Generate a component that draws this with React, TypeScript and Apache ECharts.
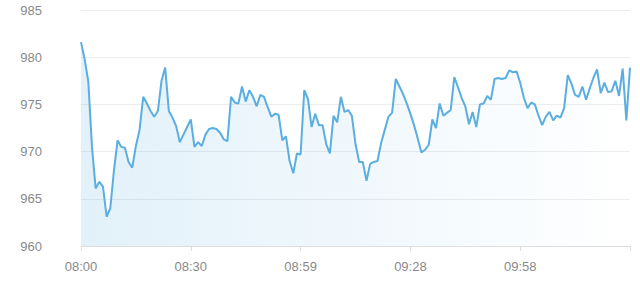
import React, { useEffect, useRef } from "react";
import * as echarts from "echarts";

// Pressure readings (hPa), one per sample
const values: number[] = [
  981.6, 979.8, 977.4, 970.5, 966.1, 966.8, 966.3, 963.1, 964.0, 968.0,
  971.2, 970.5, 970.4, 968.9, 968.3, 970.6, 972.3, 975.8, 975.1, 974.3,
  973.7, 974.3, 977.5, 978.9, 974.3, 973.6, 972.7, 971.0, 971.8, 972.6,
  973.4, 970.5, 971.0, 970.6, 971.8, 972.4, 972.5, 972.4, 972.0, 971.3,
  971.1, 975.8, 975.2, 975.1, 976.9, 975.3, 976.5, 975.8, 974.8, 976.0,
  975.8, 974.7, 973.7, 974.0, 973.9, 971.2, 971.6, 969.0, 967.7, 969.8,
  969.7, 976.5, 975.6, 972.6, 974.0, 972.8, 972.8, 970.8, 969.8, 973.8,
  973.1, 975.8, 974.2, 974.4, 973.8, 970.8, 968.9, 968.9, 966.9, 968.7,
  968.9, 969.0, 970.9, 972.3, 973.7, 974.1, 977.7, 976.9, 976.1, 975.1,
  974.0, 972.8, 971.4, 969.9, 970.2, 970.7, 973.4, 972.5, 975.1, 973.8,
  974.1, 974.4, 977.9, 976.8, 975.7, 974.8, 972.9, 974.2, 972.6, 975.0,
  975.1, 975.9, 975.5, 977.7, 977.8, 977.7, 977.8, 978.6, 978.4, 978.5,
  977.3, 975.7, 974.6, 975.2, 975.0, 973.8, 972.8, 973.7, 974.2, 973.3,
  973.8, 973.6, 974.6, 978.1, 977.2, 976.0, 975.8, 976.9, 975.5, 976.7,
  977.8, 978.7, 976.2, 977.3, 976.3, 976.4, 977.5, 975.9, 978.8, 973.3,
  978.9,
];

// Sample times: start at 08:00:40, one reading every 58.8 s
const startSeconds = 8 * 3600 + 40;
const stepSeconds = 58.8;
const times: string[] = values.map((_, i) => {
  const t = Math.floor(startSeconds + i * stepSeconds);
  const h = Math.floor(t / 3600);
  const m = Math.floor((t % 3600) / 60);
  return `${String(h).padStart(2, "0")}:${String(m).padStart(2, "0")}`;
});

const labelEvery = 30;
const yMin = 960;
const yMax = 985;
const yStep = 5;

export default function App() {
  const ref = useRef<HTMLDivElement>(null);
  useEffect(() => {
    document.body.style.margin = "0";
    const chart = echarts.init(ref.current!, undefined, { renderer: "svg" });
    chart.setOption({
      animation: false,
      backgroundColor: "#ffffff",
      grid: { left: 81, right: 10, top: 10, bottom: 42, containLabel: false },
      xAxis: {
        type: "category",
        boundaryGap: false,
        data: times,
        axisLine: { lineStyle: { color: "#dddddd" } },
        axisTick: { interval: labelEvery - 1, length: 5, lineStyle: { color: "#dddddd" } },
        axisLabel: {
          interval: (index: number) => index % labelEvery === 0 && index < values.length - 1,
          color: "#8a8a8a",
          fontSize: 13,
          fontFamily: "Liberation Sans, Arial, sans-serif",
          margin: 14,
        },
        splitLine: { show: false },
      },
      yAxis: {
        type: "value",
        min: yMin,
        max: yMax,
        interval: yStep,
        axisLine: { show: false },
        axisTick: { show: false },
        axisLabel: {
          color: "#8a8a8a",
          fontSize: 13,
          fontFamily: "Liberation Sans, Arial, sans-serif",
          margin: 39,
        },
        splitLine: { lineStyle: { color: "#ececec" } },
      },
      series: [
        {
          type: "line",
          data: values,
          showSymbol: false,
          symbol: "none",
          lineStyle: { color: "#5aaee0", width: 2 },
          itemStyle: { color: "#5aaee0" },
          areaStyle: {
            color: new echarts.graphic.LinearGradient(0, 0, 1, 0, [
              { offset: 0, color: "rgba(90,174,224,0.25)" },
              { offset: 1, color: "rgba(90,174,224,0.0)" },
            ]),
          },
        },
      ],
    });
    return () => chart.dispose();
  }, []);
  return <div ref={ref} style={{ width: 640, height: 288 }} />;
}
